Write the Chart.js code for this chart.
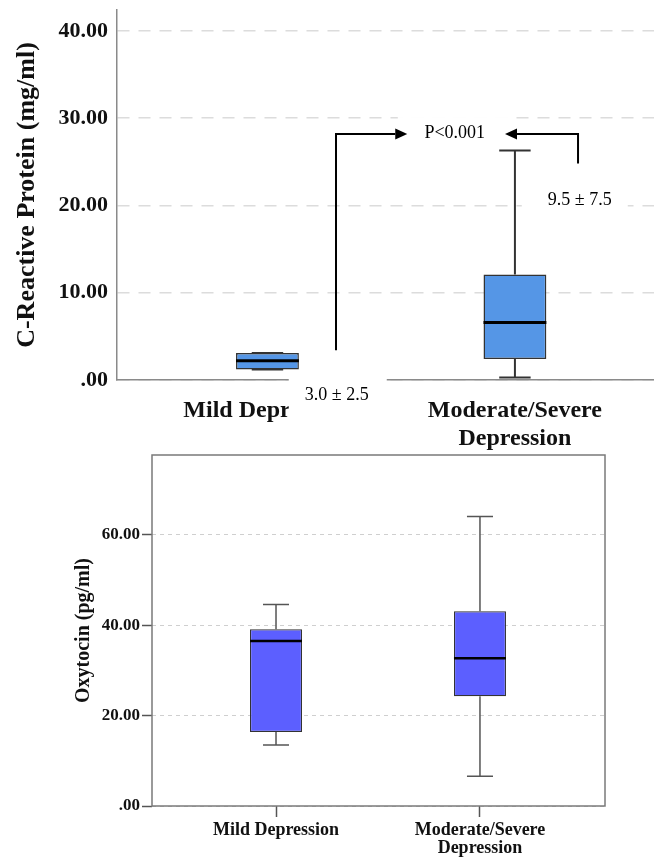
<!DOCTYPE html>
<html><head><meta charset="utf-8">
<script src="https://cdn.jsdelivr.net/npm/chart.js@4"></script>
<style>
html,body{margin:0;padding:0;background:#fff;width:654px;height:857px;overflow:hidden;}
canvas{position:absolute;left:0;}
#c1{top:0;}
#c2{top:445px;}
</style></head><body>
<canvas id="c1" width="654" height="460"></canvas>
<canvas id="c2" width="654" height="412"></canvas>
<script>
// ---------- data ----------
const groups = ['Mild Depression', ['Moderate/Severe', 'Depression']];
const groupPos = [1, 2];

// C-Reactive Protein (mg/ml)
const crpMin    = [1.2, 0.3];
const crpQ1     = [1.2, 2.4];
const crpMedian = [2.2, 6.6];
const crpQ3     = [3.1, 12.1];
const crpMax    = [3.1, 26.3];
const crpTicks  = [0, 10, 20, 30, 40];
const crpTickLabels = ['.00', '10.00', '20.00', '30.00', '40.00'];
const crpMeanSD = ['3.0 \u00B1 2.5', '9.5 \u00B1 7.5'];
const pLabel = 'P<0.001';

// Oxytocin (pg/ml)
const oxyMin    = [13.5, 6.6];
const oxyQ1     = [16.4, 24.3];
const oxyMedian = [36.5, 32.7];
const oxyQ3     = [39.1, 43.1];
const oxyMax    = [44.6, 64.1];
const oxyTicks  = [0, 20, 40, 60];
const oxyTickLabels = ['.00', '20.00', '40.00', '60.00'];

// ---------- helpers ----------
const SERIF = '"Liberation Serif","Times New Roman",serif';
const noPad = s => { s.paddingTop = 0; s.paddingBottom = 0; s.paddingLeft = 0; s.paddingRight = 0; };

function whiskerPlugin(mins, meds, maxs, st) {
  return {
    id: 'whiskers',
    afterDatasetsDraw(chart) {
      const ctx = chart.ctx, y = chart.scales.y;
      const meta = chart.getDatasetMeta(0);
      meta.data.forEach((bar, i) => {
        const x = bar.x, w = bar.width;
        const top = Math.min(bar.y, bar.base), bot = Math.max(bar.y, bar.base);
        const pMax = y.getPixelForValue(maxs[i]), pMin = y.getPixelForValue(mins[i]);
        const pMed = y.getPixelForValue(meds[i]);
        ctx.save();
        ctx.strokeStyle = st.whisker; ctx.lineWidth = st.whiskerWidth;
        ctx.beginPath();
        ctx.moveTo(x, top); ctx.lineTo(x, pMax);
        ctx.moveTo(x, bot); ctx.lineTo(x, pMin);
        ctx.moveTo(x - w / 4, pMax); ctx.lineTo(x + w / 4, pMax);
        ctx.moveTo(x - w / 4, pMin); ctx.lineTo(x + w / 4, pMin);
        ctx.stroke();
        ctx.strokeStyle = '#000'; ctx.lineWidth = st.medianWidth;
        ctx.beginPath();
        ctx.moveTo(x - w / 2, pMed); ctx.lineTo(x + w / 2, pMed);
        ctx.stroke();
        ctx.restore();
      });
    }
  };
}

// ---------- top chart: CRP ----------
const notes = [
  { text: crpMeanSD[0], x: 1.28, y: -1.75, box: [-48, -23, 50, 32] },
  { text: crpMeanSD[1], x: 2.262, y: 20.6, box: [-58, -13, 48, 13] },
  { text: pLabel, x: 1.757, y: 28.3, box: [-57, -16, 58, 15] }
];
const arrows = [
  { pts: [[1.277, 3.4], [1.277, 28.2], [1.565, 28.2]] },
  { pts: [[2.255, 24.8], [2.255, 28.2], [1.96, 28.2]] }
];

const annotationPlugin = {
  id: 'notes',
  afterDraw(chart) {
    const ctx = chart.ctx, xs = chart.scales.x, ys = chart.scales.y;
    ctx.save();
    ctx.font = '18px ' + SERIF;
    ctx.textAlign = 'center'; ctx.textBaseline = 'middle';
    notes.forEach(n => {
      const px = xs.getPixelForValue(n.x), py = ys.getPixelForValue(n.y);
      ctx.fillStyle = '#fff';
      ctx.fillRect(px + n.box[0], py + n.box[1], n.box[2] - n.box[0], n.box[3] - n.box[1]);
      ctx.fillStyle = '#000';
      ctx.fillText(n.text, px, py);
    });
    ctx.strokeStyle = '#000'; ctx.fillStyle = '#000'; ctx.lineWidth = 2;
    arrows.forEach(a => {
      const p = a.pts.map(([vx, vy]) => [xs.getPixelForValue(vx), ys.getPixelForValue(vy)]);
      const last = p[p.length - 1], prev = p[p.length - 2];
      const dir = Math.sign(last[0] - prev[0]);
      const head = 12;
      ctx.beginPath();
      ctx.moveTo(p[0][0], p[0][1]);
      for (let i = 1; i < p.length - 1; i++) ctx.lineTo(p[i][0], p[i][1]);
      ctx.lineTo(last[0] - dir * head, last[1]);
      ctx.stroke();
      ctx.beginPath();
      ctx.moveTo(last[0], last[1]);
      ctx.lineTo(last[0] - dir * head, last[1] - 5.5);
      ctx.lineTo(last[0] - dir * head, last[1] + 5.5);
      ctx.closePath();
      ctx.fill();
    });
    ctx.restore();
  }
};

new Chart(document.getElementById('c1'), {
  type: 'bar',
  data: {
    datasets: [{
      data: groupPos.map((x, i) => ({ x, y: [crpQ1[i], crpQ3[i]] })),
      backgroundColor: '#5596E6',
      borderColor: '#333',
      borderWidth: 1.5,
      borderSkipped: false,
      barPercentage: 0.254,
      categoryPercentage: 1
    }]
  },
  options: {
    responsive: false,
    animation: false,
    events: [],
    layout: { padding: { left: 0, right: 0, top: 10, bottom: 0 } },
    plugins: { legend: { display: false }, tooltip: { enabled: false } },
    scales: {
      x: {
        type: 'linear', min: 0.392, max: 2.562, offset: false,
        afterBuildTicks: s => { s.ticks = groupPos.map(v => ({ value: v })); },
        afterFit: s => { s.height = 80; noPad(s); },
        ticks: {
          callback: (v, i) => groups[i],
          font: { family: SERIF, size: 24, weight: 'bold', lineHeight: 1.17 },
          color: '#111', padding: 9, maxRotation: 0, autoSkip: false
        },
        grid: { display: false, offset: false },
        border: { display: true, color: '#8a8a8a', width: 1.5 }
      },
      y: {
        min: 0, max: 42.4,
        afterBuildTicks: s => { s.ticks = crpTicks.map(v => ({ value: v })); },
        afterFit: s => { s.width = 117; noPad(s); },
        ticks: {
          callback: (v, i) => crpTickLabels[i],
          font: { family: SERIF, size: 22, weight: 'bold' },
          color: '#111', padding: 9
        },
        grid: { color: '#dcdcdc', lineWidth: 1.5, drawTicks: false },
        border: { display: true, color: '#8a8a8a', width: 1.5, dash: [12, 9] },
        title: {
          display: true, text: 'C-Reactive Protein (mg/ml)',
          font: { family: SERIF, size: 26, weight: 'bold' },
          color: '#111', padding: { top: 12, bottom: 0 }
        }
      }
    }
  },
  plugins: [whiskerPlugin(crpMin, crpMedian, crpMax, { whisker: '#333', whiskerWidth: 2, medianWidth: 3 }), annotationPlugin]
});

// ---------- bottom chart: Oxytocin ----------
const framePlugin = {
  id: 'frame',
  afterDraw(chart) {
    const { left, right, top, bottom } = chart.chartArea;
    const ctx = chart.ctx;
    ctx.save();
    ctx.strokeStyle = '#7a7a7a'; ctx.lineWidth = 1.5;
    ctx.strokeRect(left, top, right - left, bottom - top);
    ctx.restore();
  }
};

new Chart(document.getElementById('c2'), {
  type: 'bar',
  data: {
    datasets: [{
      data: groupPos.map((x, i) => ({ x, y: [oxyQ1[i], oxyQ3[i]] })),
      backgroundColor: '#5C5FFF',
      borderColor: '#333',
      borderWidth: 1.2,
      borderSkipped: false,
      barPercentage: 0.255,
      categoryPercentage: 1
    }]
  },
  options: {
    responsive: false,
    animation: false,
    events: [],
    layout: { padding: { left: 0, right: 49, top: 10, bottom: 0 } },
    plugins: { legend: { display: false }, tooltip: { enabled: false } },
    scales: {
      x: {
        type: 'linear', min: 0.392, max: 2.613, offset: false,
        afterBuildTicks: s => { s.ticks = groupPos.map(v => ({ value: v })); },
        afterFit: s => { s.height = 51; noPad(s); },
        ticks: {
          callback: (v, i) => groups[i],
          font: { family: SERIF, size: 18, weight: 'bold', lineHeight: 1.0 },
          color: '#111', padding: 4, maxRotation: 0, autoSkip: false
        },
        grid: { display: true, offset: false, drawOnChartArea: false, drawTicks: true, tickLength: 11, tickColor: '#555', tickWidth: 1.5 },
        border: { display: false }
      },
      y: {
        min: 0, max: 77.7,
        afterBuildTicks: s => { s.ticks = oxyTicks.map(v => ({ value: v })); },
        afterFit: s => { s.width = 152; noPad(s); },
        ticks: {
          callback: (v, i) => oxyTickLabels[i],
          font: { family: SERIF, size: 17, weight: 'bold' },
          color: '#111', padding: 2
        },
        grid: { color: '#cfcfcf', lineWidth: 1, drawTicks: true, tickLength: 10, tickColor: '#555', tickWidth: 1.5, tickBorderDash: [] },
        border: { display: false, dash: [4, 4] },
        title: {
          display: true, text: 'Oxytocin (pg/ml)',
          font: { family: SERIF, size: 20, weight: 'bold' },
          color: '#111', padding: { top: 72, bottom: 0 }
        }
      }
    }
  },
  plugins: [whiskerPlugin(oxyMin, oxyMedian, oxyMax, { whisker: '#555', whiskerWidth: 1.5, medianWidth: 2.5 }), framePlugin]
});
</script>
</body></html>
